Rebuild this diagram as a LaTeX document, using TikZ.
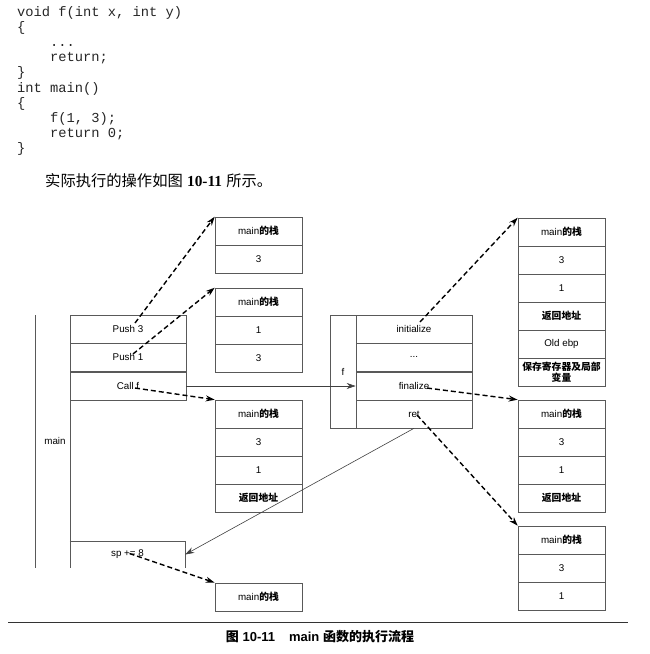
\documentclass[tikz,border=0pt]{standalone}
\usepackage{fontspec}
\setmainfont{Liberation Sans}
\newfontfamily\cjk{Noto Sans CJK SC}
\newfontfamily\monof{Liberation Mono}
\newfontfamily\serifn{Liberation Serif}
\usetikzlibrary{arrows.meta}
\newcommand\lblfont{\fontsize{9.8}{11}\selectfont}
\newcommand\zh[1]{{\cjk\bfseries #1}}
\newcommand\mst{main\zh{的栈}}
\begin{document}
\begin{tikzpicture}[x=1pt,y=-1pt,
  frame/.style={draw=black!65, line width=0.6pt},
  cell/.style={frame, minimum width=87pt, minimum height=28pt, inner sep=0pt, font=\lblfont, align=center},
  mcell/.style={cell, minimum width=116pt},
  plain/.style={inner sep=0pt, font=\lblfont},
  flow/.style={black, line width=1.4pt, dash pattern=on 5pt off 3pt, -{Stealth[length=9pt,width=6pt]}},
  link/.style={black!75, line width=0.6pt, -{Stealth[length=9pt,width=6pt]}}]
\useasboundingbox (0,0) rectangle (650,654);

% code
\node[anchor=north west, inner sep=0pt, align=left, text=black!85, font={\monof\fontsize{13.75}{15.2}\selectfont}] (code) at (17,6)
{void f(int x, int y)\\
\{\\
\hphantom{0000}...\\
\hphantom{0000}return;\\
\}\\
int main()\\
\{\\
\hphantom{0000}f(1, 3);\\
\hphantom{0000}return 0;\\
\}};

\node[anchor=west, inner sep=0pt, font=\fontsize{15.3}{17}\selectfont] (intro) at (45,181)
{{\cjk 实际执行的操作如图} {\serifn\bfseries 10-11} {\cjk 所示。}};

% main frame
\node[plain] (mainlbl) at (55,441) {main};
\draw[frame] (35,315) -- (35,568);
\draw[frame] (70,315) -- (70,568);
\node[mcell] (p3) at (128,329) {Push 3};
\node[mcell] (p1) at (128,357) {Push 1};
\node[mcell] (cf) at (128,386) {Call f};
\node[inner sep=0pt, minimum width=115pt, minimum height=27pt, font=\lblfont] (sp) at (127.5,554.5) {sp += 8};
\draw[frame] (sp.north west) -- (sp.north east) -- (sp.south east);

% f frame
\node[draw=black!65, line width=0.6pt, minimum width=142pt, minimum height=113pt, inner sep=0pt] (fbox) at (401,371.5) {};
\node[plain] (flbl) at (343,372) {f};
\node[mcell] (init) at (414,329) {initialize};
\node[mcell] (dots) at (414,357) {...};
\node[mcell] (fin) at (414,386) {finalize};
\node[mcell] (ret) at (414,414) {ret};

% left stacks
\node[cell] (s1a) at (258.5,231) {\mst};
\node[cell] (s1b) at (258.5,259) {3};

\node[cell] (s2a) at (258.5,302) {\mst};
\node[cell] (s2b) at (258.5,330) {1};
\node[cell] (s2c) at (258.5,358) {3};

\node[cell] (s3a) at (258.5,414) {\mst};
\node[cell] (s3b) at (258.5,442) {3};
\node[cell] (s3c) at (258.5,470) {1};
\node[cell] (s3d) at (258.5,498) {\zh{返回地址}};

\node[cell] (s4a) at (258.5,597) {\mst};

% right stacks
\node[cell] (sAa) at (561.5,232) {\mst};
\node[cell] (sAb) at (561.5,260) {3};
\node[cell] (sAc) at (561.5,288) {1};
\node[cell] (sAd) at (561.5,316) {\zh{返回地址}};
\node[cell] (sAe) at (561.5,344) {Old ebp};
\node[cell, font=\lblfont\linespread{1.1}\selectfont] (sAf) at (561.5,372) {\zh{保存寄存器及局部}\\[-1pt]\zh{变量}};

\node[cell] (sBa) at (561.5,414) {\mst};
\node[cell] (sBb) at (561.5,442) {3};
\node[cell] (sBc) at (561.5,470) {1};
\node[cell] (sBd) at (561.5,498) {\zh{返回地址}};

\node[cell] (sCa) at (561.5,540) {\mst};
\node[cell] (sCb) at (561.5,568) {3};
\node[cell] (sCc) at (561.5,596) {1};

% connectors
\draw[link] (cf.east) -- (fin.west);
\draw[flow] ([shift={(7,-6)}]p3.center) -- (s1a.north west);
\draw[flow] ([shift={(5,-3)}]p1.center) -- (s2a.north west);
\draw[flow] ([shift={(7,2)}]cf.center) -- (s3a.north west);
\draw[flow] ([shift={(6,-7)}]init.center) -- (sAa.north west);
\draw[flow] ([shift={(13,2)}]fin.center) -- (sBa.north west);
\draw[flow] ([shift={(3,1)}]ret.center) -- (sCa.north west);
\draw[link] (ret.south) -- (sp.east);
\draw[flow] ([shift={(2,-1)}]sp.center) -- (s4a.north west);

% caption
\draw[black!80, line width=1pt] (8,622) -- (628,622);
\node[inner sep=0pt, font=\fontsize{13}{15}\selectfont\bfseries] (caption) at (320,637)
{{\cjk\bfseries 图} 10-11\hspace{14pt}main {\cjk\bfseries 函数的执行流程}};
\end{tikzpicture}
\end{document}
